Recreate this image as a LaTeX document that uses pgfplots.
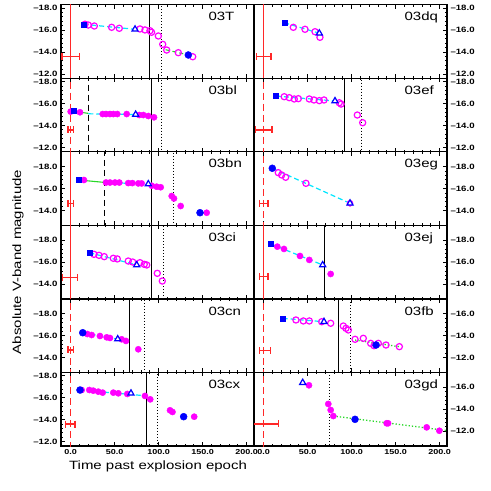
\documentclass[border=0pt]{standalone}
\usepackage{fontspec}
\setmainfont{Liberation Sans}[FakeStretch=1.25]
\usepackage{pgfplots}
\pgfplotsset{compat=1.18}
\definecolor{mag}{RGB}{255,0,255}
\definecolor{bl}{RGB}{0,0,255}
\definecolor{cy}{RGB}{0,230,255}
\definecolor{gr}{RGB}{40,215,40}
\definecolor{rd}{RGB}{255,40,40}
\tikzset{lab/.style={anchor=base west, font=\fontsize{12}{12}\selectfont}}
\pgfplotsset{
 panel/.style={scale only axis, width=193pt, height=73.55pt, xmin=-11, xmax=208.5, y dir=reverse,
   xtick={0,50,100,150,200}, xticklabels={}, minor x tick num=4, minor y tick num=4,
   tick align=inside, xtick pos=both, major tick length=4pt, minor tick length=2pt,
   axis line style={line width=1.2pt}, every tick/.style={black,line width=0.7pt},
   yticklabel style={font=\fontsize{7.7}{8}\selectfont\bfseries},
   xticklabel style={font=\fontsize{7.2}{8}\selectfont\bfseries},
   anchor=south west},
 tA/.style={ymin=-18.3,ymax=-11.6,ytick={-18,-16,-14,-12},yticklabels={--18.0,--16.0,--14.0,--12.0}},
 tB/.style={ymin=-19.35,ymax=-12.65,ytick={-18,-16,-14},yticklabels={--18.0,--16.0,--14.0}},
 tC/.style={ymin=-17.35,ymax=-10.65,ytick={-16,-14,-12},yticklabels={--16.0,--14.0,--12.0}},
 L/.style={ytick pos=left},
 R/.style={ytick pos=right, yticklabel pos=right},
 bottom/.style={xticklabels={0.0,50.0,100.0,150.0,200.0}},
 opn/.style={only marks, mark=o, mark size=3.1pt, mark options={draw=mag, line width=1.2pt}},
 fil/.style={only marks, mark=*, mark size=3.1pt, mark options={draw=mag, fill=mag}},
 sq/.style={only marks, mark=square*, mark size=2.5pt, mark options={draw=bl, fill=bl}},
 tri/.style={only marks, mark=triangle*, mark size=3.5pt, mark options={draw=bl, fill=white, line width=1.2pt}},
 bc/.style={only marks, mark=*, mark size=3.5pt, mark options={draw=bl, fill=bl}},
 cyl/.style={cy, line width=1.2pt, dash pattern=on 5pt off 3pt, mark=none},
 grs/.style={gr, line width=1.1pt, mark=none},
 grd/.style={gr, line width=1.1pt, dash pattern=on 4pt off 3pt, mark=none},
 grdot/.style={gr, line width=1.3pt, dash pattern=on 1.3pt off 2pt, mark=none},
 vsolid/.style={black, line width=1pt, mark=none},
 vdot/.style={black, line width=1pt, dash pattern=on 1pt off 2pt, mark=none},
 vdash/.style={black, line width=1pt, dash pattern=on 6pt off 4pt, mark=none},
 rsol/.style={rd, line width=1.5pt, mark=none},
 rdash/.style={rd, line width=1.5pt, dash pattern=on 7pt off 4pt, mark=none},
 eb/.style={rd, line width=1.3pt, mark=|, mark size=3.5pt, mark options={solid, line width=1.3pt}}
}
\begin{document}
\begin{tikzpicture}
\path[use as bounding box] (0,0) rectangle (491pt,491pt);

% ---------------- 03T
\begin{axis}[panel, tA, L, at={(61pt,412.75pt)}]
\addplot[rsol] coordinates {(0,-25) (0,-5)};
\addplot[vsolid] coordinates {(89.4,-25) (89.4,-5)};
\addplot[vdot] coordinates {(103.5,-25) (103.5,-5)};
\addplot[eb] coordinates {(-10,-13.56) (10,-13.56)};
\addplot[opn] coordinates {(16.3,-16.52) (20,-16.45) (26.9,-16.36) (46.6,-16.24) (55.3,-16.15) (78.8,-16.09) (84.5,-16.0) (90.2,-15.93) (92,-15.79) (99.7,-15.45) (104.7,-14.69) (109.2,-14.17) (122.4,-13.93) (138.8,-13.56)};
\addplot[cyl] coordinates {(14.3,-16.52) (73.2,-16.06)};
\addplot[grd] coordinates {(108,-14.2) (134,-13.72)};
\addplot[sq] coordinates {(14.3,-16.52)};
\addplot[tri] coordinates {(73.2,-16.06)};
\addplot[bc] coordinates {(133.8,-13.72)};
\node[lab] at (axis description cs:0.746,0.78) {03T};
\end{axis}

% ---------------- 03bl
\begin{axis}[panel, tA, L, at={(61pt,339.2pt)}]
\addplot[rdash] coordinates {(0,-25) (0,-5)};
\addplot[vdash] coordinates {(20,-25) (20,-5)};
\addplot[vsolid] coordinates {(91.4,-25) (91.4,-5)};
\addplot[vdot] coordinates {(103.5,-25) (103.5,-5)};
\addplot[eb] coordinates {(-3,-13.59) (3,-13.59)};
\addplot[fil] coordinates {(0,-15.26) (10.6,-15.2) (36.4,-15.04) (40.2,-15.04) (44.7,-15.04) (48.5,-15.04) (53,-15.04) (63.7,-15.04) (78,-14.95) (82.6,-14.95) (88.3,-14.86) (94.8,-14.74)};
\addplot[grs] coordinates {(3,-15.3) (20,-15.1)};
\addplot[cyl] coordinates {(20,-15.06) (73.9,-15.0)};
\addplot[sq] coordinates {(3,-15.32)};
\addplot[tri] coordinates {(73.9,-15.0)};
\node[lab] at (axis description cs:0.746,0.78) {03bl};
\end{axis}

% ---------------- 03bn
\begin{axis}[panel, tB, L, at={(61pt,265.65pt)}]
\addplot[rsol] coordinates {(0,-25) (0,-5)};
\addplot[vdash] coordinates {(39,-25) (39,-5)};
\addplot[vsolid] coordinates {(92.2,-25) (92.2,-5)};
\addplot[vdot] coordinates {(117.5,-25) (117.5,-5)};
\addplot[eb] coordinates {(-3,-14.66) (3,-14.66)};
\addplot[fil] coordinates {(15.1,-16.78) (40.2,-16.55) (44.7,-16.55) (50.4,-16.55) (55.3,-16.55) (65.5,-16.5) (70.1,-16.5) (76.9,-16.47) (80.7,-16.47) (92.2,-16.26) (97.8,-16.17) (102.4,-16.12) (114.9,-15.32) (117.5,-15.1) (125.1,-14.41) (154.7,-13.8)};
\addplot[grs] coordinates {(9.4,-16.78) (40,-16.55)};
\addplot[cyl] coordinates {(40,-16.55) (88.3,-16.42)};
\addplot[sq] coordinates {(9.4,-16.78)};
\addplot[tri] coordinates {(88.3,-16.42)};
\addplot[bc] coordinates {(147.1,-13.8)};
\node[lab] at (axis description cs:0.746,0.78) {03bn};
\end{axis}

% ---------------- 03ci
\begin{axis}[panel, tB, L, at={(61pt,192.1pt)}]
\addplot[rsol] coordinates {(0,-25) (0,-5)};
\addplot[vsolid] coordinates {(92.2,-25) (92.2,-5)};
\addplot[vdot] coordinates {(105.4,-25) (105.4,-5)};
\addplot[eb] coordinates {(-9.1,-14.62) (7.5,-14.62)};
\addplot[opn] coordinates {(26.5,-16.71) (32.2,-16.62) (38.2,-16.5) (48.5,-16.35) (53,-16.29) (65.5,-16.1) (70.5,-16.01) (78.8,-15.95) (83.7,-15.8) (86.5,-15.74) (98.5,-14.98) (104.2,-14.28)};
\addplot[cyl] coordinates {(21.2,-16.86) (75.1,-15.74)};
\addplot[sq] coordinates {(21.2,-16.86)};
\addplot[tri] coordinates {(75.1,-15.74)};
\node[lab] at (axis description cs:0.746,0.78) {03ci};
\end{axis}

% ---------------- 03cn
\begin{axis}[panel, tB, L, at={(61pt,118.55pt)}]
\addplot[rdash] coordinates {(0,-25) (0,-5)};
\addplot[vsolid] coordinates {(66.7,-25) (66.7,-5)};
\addplot[vdot] coordinates {(83.4,-25) (83.4,-5)};
\addplot[eb] coordinates {(-3,-14.7) (3,-14.7)};
\addplot[fil] coordinates {(18.9,-16.15) (23.9,-16.06) (33.3,-15.97) (41,-15.85) (44.7,-15.79) (58,-15.67) (62.9,-15.52) (76.9,-14.76)};
\addplot[cyl] coordinates {(13.7,-16.27) (53.5,-15.69)};
\addplot[bc] coordinates {(13.7,-16.27)};
\addplot[tri] coordinates {(53.5,-15.69)};
\node[lab] at (axis description cs:0.746,0.78) {03cn};
\end{axis}

% ---------------- 03cx
\begin{axis}[panel, tA, L, bottom, at={(61pt,45pt)}]
\addplot[rdash] coordinates {(0,-25) (0,-5)};
\addplot[vsolid] coordinates {(86.6,-25) (86.6,-5)};
\addplot[vdot] coordinates {(98.5,-25) (98.5,-5)};
\addplot[eb] coordinates {(-6,-13.6) (5,-13.6)};
\addplot[fil] coordinates {(12.5,-16.7) (21.2,-16.7) (25.7,-16.64) (31.4,-16.55) (36.4,-16.46) (48.5,-16.46) (54.2,-16.4) (64.4,-16.34) (84.5,-16.16) (90.5,-15.85) (113,-14.85) (115.8,-14.7) (140.5,-14.27)};
\addplot[cyl] coordinates {(10.6,-16.7) (84.5,-16.18)};
\addplot[bc] coordinates {(10.6,-16.7) (128.5,-14.27)};
\addplot[tri] coordinates {(68.6,-16.4)};
\node[lab] at (axis description cs:0.746,0.78) {03cx};
\end{axis}

% ---------------- 03dq
\begin{axis}[panel, tA, R, at={(254pt,412.75pt)}]
\addplot[rsol] coordinates {(0,-25) (0,-5)};
\addplot[eb] coordinates {(-8.5,-13.56) (8.5,-13.56)};
\addplot[opn] coordinates {(33.7,-16.24) (47,-16.06) (58.4,-15.84) (64,-15.33)};
\addplot[cyl] coordinates {(23.4,-16.66) (63.3,-15.7)};
\addplot[sq] coordinates {(23.4,-16.66)};
\addplot[tri] coordinates {(63.3,-15.7)};
\node[lab] at (axis description cs:0.762,0.78) {03dq};
\end{axis}

% ---------------- 03ef
\begin{axis}[panel, tA, R, at={(254pt,339.2pt)}]
\addplot[rdash] coordinates {(0,-25) (0,-5)};
\addplot[vsolid] coordinates {(91.4,-25) (91.4,-5)};
\addplot[vdot] coordinates {(111.5,-25) (111.5,-5)};
\addplot[eb] coordinates {(-9.5,-13.59) (9.5,-13.59)};
\addplot[opn] coordinates {(23.4,-16.62) (29.1,-16.53) (34.8,-16.41) (39.4,-16.44) (51.9,-16.41) (57.2,-16.32) (63.3,-16.26) (68.6,-16.32) (86,-16.07) (88,-15.95) (106.5,-14.95) (112.6,-14.25)};
\addplot[cyl] coordinates {(14,-16.68) (81.1,-16.23)};
\addplot[sq] coordinates {(14,-16.68)};
\addplot[tri] coordinates {(81.1,-16.23)};
\node[lab] at (axis description cs:0.762,0.78) {03ef};
\end{axis}

% ---------------- 03eg
\begin{axis}[panel, tB, R, at={(254pt,265.65pt)}]
\addplot[rdash] coordinates {(0,-25) (0,-5)};
\addplot[eb] coordinates {(-5,-14.66) (5,-14.66)};
\addplot[opn] coordinates {(16.6,-17.45) (20.5,-17.24) (25,-17.03) (48.1,-16.48)};
\addplot[fil] coordinates {(98.2,-14.66)};
\addplot[cyl] coordinates {(9.8,-17.85) (98.2,-14.66)};
\addplot[bc] coordinates {(9.8,-17.85)};
\addplot[tri] coordinates {(98.2,-14.66)};
\node[lab] at (axis description cs:0.762,0.78) {03eg};
\end{axis}

% ---------------- 03ej
\begin{axis}[panel, tB, R, at={(254pt,192.1pt)}]
\addplot[rsol] coordinates {(0,-25) (0,-5)};
\addplot[vsolid] coordinates {(69.7,-25) (69.7,-5)};
\addplot[eb] coordinates {(-5,-14.67) (5,-14.67)};
\addplot[fil] coordinates {(15.5,-17.41) (23.1,-17.2) (41.3,-16.56) (51.9,-16.2) (76.2,-14.92)};
\addplot[cyl] coordinates {(8.3,-17.65) (67.1,-15.74)};
\addplot[sq] coordinates {(8.3,-17.65)};
\addplot[tri] coordinates {(67.1,-15.74)};
\node[lab] at (axis description cs:0.762,0.78) {03ej};
\end{axis}

% ---------------- 03fb
\begin{axis}[panel, tC, R, at={(254pt,118.55pt)}]
\addplot[rdash] coordinates {(0,-25) (0,-5)};
\addplot[vsolid] coordinates {(84.9,-25) (84.9,-5)};
\addplot[vdot] coordinates {(99,-25) (99,-5)};
\addplot[eb] coordinates {(-5,-12.63) (8,-12.63)};
\addplot[opn] coordinates {(36.7,-15.43) (45.1,-15.34) (51.9,-15.34) (66,-15.27) (76.2,-15.13) (90.6,-14.88) (93.6,-14.67) (96.3,-14.52) (103.9,-13.67) (113.3,-13.76) (121.7,-13.3) (125.5,-13.09) (130.4,-13.3) (139.1,-13.15) (154.3,-13.0)};
\addplot[cyl] coordinates {(21.6,-15.58) (68.6,-15.27)};
\addplot[grdot] coordinates {(104,-13.6) (154,-13.0)};
\addplot[sq] coordinates {(21.6,-15.58)};
\addplot[tri] coordinates {(68.6,-15.27)};
\addplot[bc] coordinates {(127.8,-13.15)};
\node[lab] at (axis description cs:0.762,0.78) {03fb};
\end{axis}

% ---------------- 03gd
\begin{axis}[panel, tC, R, bottom, at={(254pt,45pt)}]
\addplot[rdash] coordinates {(0,-25) (0,-5)};
\addplot[vdot] coordinates {(74.6,-25) (74.6,-5)};
\addplot[eb] coordinates {(-16.6,-12.66) (16.6,-12.66)};
\addplot[fil] coordinates {(51.5,-16.18) (73.5,-14.48) (76.2,-13.93) (79.2,-13.38) (139.9,-12.72) (141.5,-12.72) (185.4,-12.35) (199.8,-12.04)};
\addplot[grdot] coordinates {(79.2,-13.38) (209,-12.05)};
\addplot[tri] coordinates {(44.4,-16.42)};
\addplot[bc] coordinates {(103.9,-13.08)};
\node[lab] at (axis description cs:0.762,0.78) {03gd};
\end{axis}

\node[anchor=base, font=\fontsize{12}{12}\selectfont] at (158pt,21pt) {Time past explosion epoch};
\node[rotate=90, font=\fontsize{12}{12}\selectfont] at (18pt,229pt) {Absolute V-band magnitude};
\end{tikzpicture}
\end{document}
